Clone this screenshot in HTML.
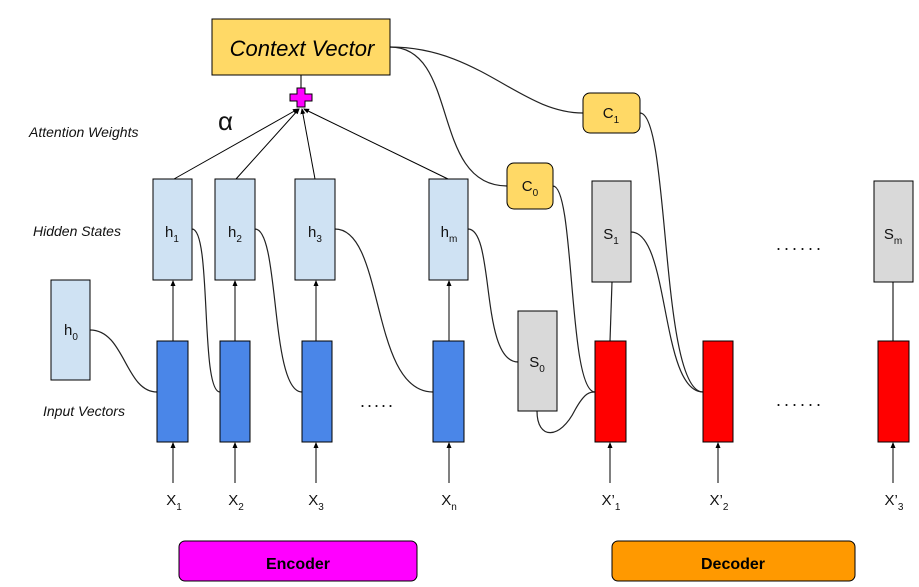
<!DOCTYPE html>
<html><head><meta charset="utf-8"><style>body{margin:0;background:#fff}svg{display:block}text{font-family:"Liberation Sans",sans-serif}</style></head><body>
<svg width="919" height="587" viewBox="0 0 919 587" xmlns="http://www.w3.org/2000/svg">
<defs><marker id="a" markerWidth="6" markerHeight="6" refX="5" refY="3" orient="auto"><path d="M0,0.5 L6,3 L0,5.5z" fill="#000"/></marker></defs>
<g fill="none" stroke="#222" stroke-width="1.2">
<path d="M390,47 C460,47 430,186 507,186"/>
<path d="M390,47 C480,47 520,113 583,113"/>
<path d="M90,330 C125,330 125,392 157,392"/>
<path d="M192,229 C212,229 200,392 220,392"/>
<path d="M255,229 C280,229 270,392 302,392"/>
<path d="M335,229 C385,229 370,392 433,392"/>
<path d="M468,229 C495,229 480,362 518,362"/>
<path d="M537,411 C537,440 560,440 575,410 C585,392 590,392 595,392"/>
<path d="M553,186 C575,186 568,392 595,392"/>
<path d="M640,113 C670,113 660,392 703,392"/>
<path d="M631,232 C670,232 660,392 703,392"/>
<line x1="612" y1="282" x2="610" y2="341"/>
<line x1="893" y1="282" x2="893" y2="341"/>
<line x1="301" y1="75" x2="301" y2="89"/>
</g>
<g stroke="#000" stroke-width="1" marker-end="url(#a)">
<line x1="174" y1="179" x2="298" y2="109"/>
<line x1="236" y1="179" x2="299" y2="109"/>
<line x1="315" y1="179" x2="302" y2="109"/>
<line x1="448" y1="179" x2="304" y2="109"/>
<line x1="173" y1="341" x2="173" y2="281"/><line x1="235" y1="341" x2="235" y2="281"/><line x1="316" y1="341" x2="316" y2="281"/><line x1="449" y1="341" x2="449" y2="281"/>
<line x1="173" y1="483" x2="173" y2="443"/><line x1="235" y1="483" x2="235" y2="443"/><line x1="316" y1="483" x2="316" y2="443"/><line x1="449" y1="483" x2="449" y2="443"/>
<line x1="610" y1="483" x2="610" y2="443"/><line x1="718" y1="483" x2="718" y2="443"/><line x1="893" y1="483" x2="893" y2="443"/>
</g>
<rect x="212" y="19" width="178" height="56" fill="#ffd966" stroke="#000"/>
<text x="302" y="56" font-size="22" font-style="italic" text-anchor="middle">Context Vector</text>
<path d="M297,88h8v6h7v7h-7v6h-8v-6h-7v-7h7z" fill="#ff00ff" stroke="#000"/>
<text x="218" y="130" font-size="26" fill="#111">α</text>
<g font-size="14" font-style="italic" fill="#111">
<text x="29" y="137">Attention Weights</text>
<text x="33" y="236">Hidden States</text>
<text x="43" y="416">Input Vectors</text>
</g>
<g fill="#cfe2f3" stroke="#000">
<rect x="153" y="179" width="39" height="101"/><rect x="215" y="179" width="40" height="101"/><rect x="295" y="179" width="40" height="101"/><rect x="429" y="179" width="39" height="101"/><rect x="51" y="280" width="39" height="100"/>
</g>
<g fill="#4a86e8" stroke="#000">
<rect x="157" y="341" width="31" height="101"/><rect x="220" y="341" width="30" height="101"/><rect x="302" y="341" width="30" height="101"/><rect x="433" y="341" width="31" height="101"/>
</g>
<g fill="#d9d9d9" stroke="#000">
<rect x="518" y="311" width="39" height="100"/><rect x="592" y="181" width="39" height="101"/><rect x="874" y="181" width="39" height="101"/>
</g>
<g fill="#ff0000" stroke="#000">
<rect x="595" y="341" width="31" height="101"/><rect x="703" y="341" width="30" height="101"/><rect x="878" y="341" width="31" height="101"/>
</g>
<rect x="507" y="163" width="46" height="46" rx="7" fill="#ffd966" stroke="#000"/>
<rect x="583" y="93" width="57" height="40" rx="7" fill="#ffd966" stroke="#000"/>
<g font-size="15" fill="#111" text-anchor="middle">
<text x="172" y="237">h<tspan font-size="10" dy="5">1</tspan></text>
<text x="235" y="237">h<tspan font-size="10" dy="5">2</tspan></text>
<text x="315" y="237">h<tspan font-size="10" dy="5">3</tspan></text>
<text x="449" y="237">h<tspan font-size="10" dy="5">m</tspan></text>
<text x="71" y="335">h<tspan font-size="10" dy="5">0</tspan></text>
<text x="537" y="367">S<tspan font-size="10" dy="5">0</tspan></text>
<text x="611" y="239">S<tspan font-size="10" dy="5">1</tspan></text>
<text x="893" y="239">S<tspan font-size="10" dy="5">m</tspan></text>
<text x="530" y="191">C<tspan font-size="10" dy="5">0</tspan></text>
<text x="611" y="118">C<tspan font-size="10" dy="5">1</tspan></text>
<text x="174" y="505">X<tspan font-size="10" dy="5">1</tspan></text>
<text x="236" y="505">X<tspan font-size="10" dy="5">2</tspan></text>
<text x="316" y="505">X<tspan font-size="10" dy="5">3</tspan></text>
<text x="449" y="505">X<tspan font-size="10" dy="5">n</tspan></text>
<text x="611" y="505">X’<tspan font-size="10" dy="5">1</tspan></text>
<text x="719" y="505">X’<tspan font-size="10" dy="5">2</tspan></text>
<text x="894" y="505">X’<tspan font-size="10" dy="5">3</tspan></text>
</g>
<g fill="#111">
<text x="360" y="407" font-size="18" letter-spacing="2">.....</text>
<text x="776" y="250" font-size="18" letter-spacing="3">......</text>
<text x="776" y="406" font-size="18" letter-spacing="3">......</text>
</g>
<rect x="179" y="541" width="238" height="40" rx="6" fill="#ff00ff" stroke="#000"/>
<text x="298" y="569" font-size="16" font-weight="bold" text-anchor="middle">Encoder</text>
<rect x="612" y="541" width="243" height="40" rx="6" fill="#ff9900" stroke="#000"/>
<text x="733" y="569" font-size="16" font-weight="bold" text-anchor="middle">Decoder</text>
</svg>
</body></html>
